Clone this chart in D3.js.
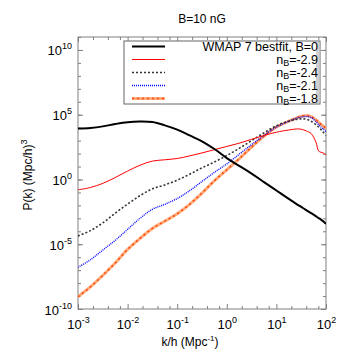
<!DOCTYPE html>
<html>
<head>
<meta charset="utf-8">
<script src="https://cdn.jsdelivr.net/npm/d3@7"></script>
<style>
body{margin:0;background:#fff;}
svg text{font-family:"Liberation Sans",Arial,sans-serif;fill:#000;}
</style>
</head>
<body>
<svg id="chart" width="346" height="363"></svg>
<script>
// log10(k/h) sample positions
const logK = [-3, -2.75, -2.5, -2.25, -2, -1.75, -1.5, -1.25, -1, -0.75, -0.5, -0.25, 0, 0.25, 0.5, 0.75, 1, 1.25, 1.4, 1.5, 1.6, 1.7, 1.8, 1.85, 1.9, 1.95, 2];
// log10 P(k) for each series
const logP_wmap = [3.93, 3.98, 4.1, 4.28, 4.42, 4.47, 4.43, 4.18, 3.85, 3.4, 2.95, 2.35, 1.65, 1.05, 0.45, -0.2, -0.85, -1.5, -1.88, -2.12, -2.36, -2.6, -2.85, -2.98, -3.1, -3.25, -3.43];
const logP_n29 = [-0.80, -0.62, -0.30, 0.15, 0.65, 1.1, 1.42, 1.52, 1.62, 1.82, 2.05, 2.3, 2.55, 2.8, 3.1, 3.4, 3.65, 3.82, 3.9, 3.88, 3.75, 3.55, 2.85, 2.2, 2.1, 2.03, 1.9];
const logP_n24 = [-4.36, -3.95, -3.35, -2.6, -1.9, -1.25, -0.72, -0.42, -0.05, 0.4, 0.9, 1.35, 1.85, 2.4, 3.0, 3.6, 4.15, 4.5, 4.64, 4.68, 4.66, 4.5, 4.22, 4.05, 3.85, 3.62, 3.4];
const logP_n21 = [-6.78, -6.2, -5.45, -4.7, -3.85, -3.0, -2.3, -1.92, -1.47, -0.87, -0.15, 0.55, 1.2, 1.95, 2.7, 3.4, 4.05, 4.5, 4.72, 4.82, 4.86, 4.78, 4.45, 4.25, 4.05, 3.87, 3.7];
const logP_n18 = [-9.05, -8.3, -7.4, -6.45, -5.4, -4.55, -3.78, -3.22, -2.65, -1.92, -1.05, -0.1, 0.75, 1.6, 2.5, 3.35, 4.05, 4.5, 4.74, 4.88, 4.93, 4.86, 4.6, 4.42, 4.25, 4.1, 3.96];

const seriesNames = ["WMAP 7 bestfit, B=0", "-2.9", "-2.4", "-2.1", "-1.8"];
const xMajor = [1e-3, 1e-2, 1e-1, 1e0, 1e1, 1e2];
const xMajorExp = ["-3", "-2", "-1", "0", "1", "2"];
const yMajor = [1e-10, 1e-5, 1e0, 1e5, 1e10];
const yMajorExp = ["-10", "-5", "0", "5", "10"];
const xMinorMult = [2, 4, 7];
const titleText = "B=10 nG";

const svg = d3.select("#chart");
const L = 78, R = 326, T = 37, B = 309;
const x = d3.scaleLog().domain([1e-3, 1e2]).range([L, R]);
const y = d3.scaleLog().domain([1e-10, 1e11]).range([B, T]);

const frameCol = "#808080";

const xMinor = [];
for (let e = -3; e < 2; e++) xMinorMult.forEach(m => xMinor.push(m * Math.pow(10, e)));
const yMinor = [];
for (let e = -10; e <= 11; e++) yMinor.push(Math.pow(10, e));

function styleAxis(g){
  g.select(".domain").remove();
  g.selectAll("line").attr("stroke", frameCol).attr("stroke-width", 1);
}

svg.append("g").attr("transform", `translate(0,${B})`)
  .call(d3.axisBottom(x).tickValues(xMinor).tickSize(-3).tickFormat("")).call(styleAxis);
svg.append("g").attr("transform", `translate(0,${T})`)
  .call(d3.axisTop(x).tickValues(xMinor).tickSize(-3).tickFormat("")).call(styleAxis);
svg.append("g").attr("transform", `translate(0,${T})`)
  .call(d3.axisTop(x).tickValues(xMajor).tickSize(-5).tickFormat("")).call(styleAxis);
const xb = svg.append("g").attr("transform", `translate(0,${B})`)
  .call(d3.axisBottom(x).tickValues(xMajor).tickSize(-5).tickFormat(""));
styleAxis(xb);
xb.selectAll(".tick text").remove();
xb.selectAll(".tick").each(function(d, i){
  const t = d3.select(this).append("text")
    .attr("y", 20).attr("text-anchor", "middle").attr("font-size", 13).attr("fill", "#000");
  t.append("tspan").text("10");
  t.append("tspan").attr("dy", -6).attr("font-size", 9).text(xMajorExp[i]);
});

svg.append("g").attr("transform", `translate(${L},0)`)
  .call(d3.axisLeft(y).tickValues(yMinor).tickSize(-3).tickFormat("")).call(styleAxis);
svg.append("g").attr("transform", `translate(${R},0)`)
  .call(d3.axisRight(y).tickValues(yMinor).tickSize(-3).tickFormat("")).call(styleAxis);
svg.append("g").attr("transform", `translate(${R},0)`)
  .call(d3.axisRight(y).tickValues(yMajor).tickSize(-5).tickFormat("")).call(styleAxis);
const yl = svg.append("g").attr("transform", `translate(${L},0)`)
  .call(d3.axisLeft(y).tickValues(yMajor).tickSize(-5).tickFormat(""));
styleAxis(yl);
yl.selectAll(".tick text").remove();
yl.selectAll(".tick").each(function(d, i){
  const t = d3.select(this).append("text")
    .attr("x", -6).attr("y", 5).attr("text-anchor", "end").attr("font-size", 13).attr("fill", "#000");
  t.append("tspan").text("10");
  t.append("tspan").attr("dy", -6).attr("font-size", 9).text(yMajorExp[i]);
});

svg.append("rect").attr("x", L).attr("y", T).attr("width", R - L).attr("height", B - T)
  .attr("fill", "none").attr("stroke", frameCol).attr("stroke-width", 1);

svg.append("clipPath").attr("id", "clip").append("rect")
  .attr("x", L).attr("y", T).attr("width", R - L).attr("height", B - T);

const line = d3.line()
  .x(d => x(d[0])).y(d => y(d[1]))
  .curve(d3.curveCatmullRom.alpha(0.5));
const toData = arr => logK.map((lk, i) => [Math.pow(10, lk), Math.pow(10, arr[i])]);

const plot = svg.append("g").attr("clip-path", "url(#clip)");

const styles = [
  [{stroke: "#000", w: 2, dash: null}],
  [{stroke: "#ff0000", w: 1, dash: null}],
  [{stroke: "#333", w: 1.6, dash: "2,2"}],
  [{stroke: "#0000ff", w: 1.4, dash: "1,1"}],
  [{stroke: "#ffab7a", w: 3, dash: null}, {stroke: "#ff4a10", w: 1.6, dash: "2,3"}]
];
const allData = [logP_wmap, logP_n29, logP_n24, logP_n21, logP_n18];

[4, 3, 2, 1, 0].forEach(si => {
  const d = toData(allData[si]);
  styles[si].forEach(s => {
    plot.append("path").datum(d).attr("d", line)
      .attr("fill", "none").attr("stroke", s.stroke).attr("stroke-width", s.w)
      .attr("stroke-dasharray", s.dash);
  });
});

// legend
const lg = svg.append("g");
lg.append("rect").attr("x", 124).attr("y", 41).attr("width", 196).attr("height", 63)
  .attr("fill", "#fff").attr("stroke", "#666").attr("stroke-width", 1);
lg.append("rect").attr("x", 316).attr("y", 42).attr("width", 3.5).attr("height", 61)
  .attr("fill", "#d0d0d0");
seriesNames.forEach((name, i) => {
  const yy = 46.5 + i * 13;
  styles[i].forEach(s => {
    lg.append("line").attr("x1", 132).attr("x2", 165).attr("y1", yy).attr("y2", yy)
      .attr("stroke", s.stroke).attr("stroke-width", s.w).attr("stroke-dasharray", s.dash);
  });
  const t = lg.append("text").attr("x", 318).attr("y", yy + 4)
    .attr("text-anchor", "end").attr("font-size", 12.5);
  if (i === 0) {
    t.text(name);
  } else {
    t.append("tspan").text("n");
    t.append("tspan").attr("dy", 2.5).attr("font-size", 9).text("B");
    t.append("tspan").attr("dy", -2.5).text("=" + name);
  }
});

svg.append("text").attr("x", 202).attr("y", 23).attr("text-anchor", "middle")
  .attr("font-size", 12).text(titleText);

const xt = svg.append("text").attr("x", 190).attr("y", 346).attr("text-anchor", "middle")
  .attr("font-size", 12);
xt.append("tspan").text("k/h (Mpc");
xt.append("tspan").attr("dy", -5).attr("font-size", 8).text("-1");
xt.append("tspan").attr("dy", 5).text(")");

const ytl = svg.append("text").attr("transform", "translate(32,175) rotate(-90)")
  .attr("text-anchor", "middle").attr("font-size", 12);
ytl.append("tspan").text("P(k)  (Mpc/h)");
ytl.append("tspan").attr("dy", -5).attr("font-size", 9).text("3");
</script>
</body>
</html>
